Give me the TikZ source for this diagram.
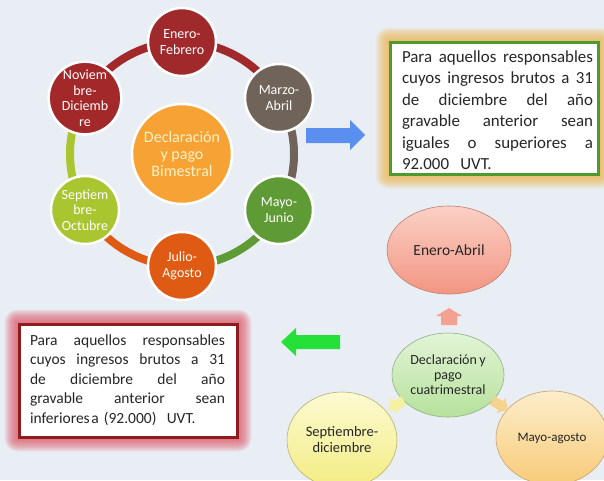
\documentclass[tikz,border=0pt]{standalone}
\usepackage{fontspec}
\setmainfont{Carlito}
\usetikzlibrary{calc,shapes.geometric,backgrounds}

\definecolor{bg}{HTML}{E9EEF5}
\definecolor{cEnero}{HTML}{A0292B}
\definecolor{cMarzo}{HTML}{6F635A}
\definecolor{cMayo}{HTML}{5E9B35}
\definecolor{cJulio}{HTML}{DF5A12}
\definecolor{cSept}{HTML}{A9C530}
\definecolor{cNov}{HTML}{A3282A}
\definecolor{cHub}{HTML}{F7A234}
\definecolor{hubText}{HTML}{FFF2C8}
\definecolor{arrBlue}{HTML}{5A8EEF}
\definecolor{arrGreen}{HTML}{26E03A}
\definecolor{boxGreen}{HTML}{4F9A2F}
\definecolor{boxRed}{HTML}{8C1C1E}
\definecolor{glowOrange}{HTML}{F0B850}
\definecolor{glowRed}{HTML}{E05060}
% period ellipses
\definecolor{eaTop}{HTML}{FAD0C6}
\definecolor{eaBot}{HTML}{F39582}
\definecolor{eaLine}{HTML}{C08070}
\definecolor{cuTop}{HTML}{E2F4D6}
\definecolor{cuBot}{HTML}{B6E19C}
\definecolor{cuLine}{HTML}{8FB084}
\definecolor{sdTop}{HTML}{FCFAD2}
\definecolor{sdBot}{HTML}{F3EC82}
\definecolor{sdLine}{HTML}{B8B070}
\definecolor{maTop}{HTML}{FDEDCB}
\definecolor{maBot}{HTML}{F7CB78}
\definecolor{maLine}{HTML}{C4A470}
\definecolor{ptrUp}{HTML}{F4A192}
\definecolor{ptrLeft}{HTML}{F6F0A2}
\definecolor{ptrRight}{HTML}{F6D38E}

% a justified line: the gaps between words are stretched to the full text width
\newcommand{\fullline}[1]{\leavevmode\hbox to \hsize{\def\ {\hfil}#1}}

\begin{document}
\begin{tikzpicture}[x=1pt,y=-1pt,
  month/.style={circle, draw=white, line width=2.5pt, minimum size=68pt,
    inner sep=0pt, align=center, text=white,
    font=\fontsize{14}{15.5}\selectfont},
  hubnode/.style={circle, draw=white, line width=2.5pt, minimum size=100pt,
    fill=cHub, inner sep=0pt, align=center, text=hubText,
    font=\fontsize{16}{17}\selectfont},
  ring/.style={line width=8pt},
  frame/.style={draw, line width=3pt, fill=white, inner sep=0pt},
  boxtext/.style={inner sep=0pt, align=left, text=black!85},
  period/.style={ellipse, draw, line width=0.6pt, inner sep=0pt,
    align=center, text=black!85}
]
\useasboundingbox (0,0) rectangle (604,480);
\begin{pgfonlayer}{background}
  \fill[bg] (0,0) rectangle (604,480);
\end{pgfonlayer}

% ---------- bimonthly cycle ----------
\coordinate (hub) at (182,154);
\draw[ring, cEnero] ($(hub)+(-90:112)$) arc[start angle=-90, end angle=-30, radius=112];
\draw[ring, cMarzo] ($(hub)+(-30:112)$) arc[start angle=-30, end angle=30, radius=112];
\draw[ring, cMayo]  ($(hub)+(30:112)$)  arc[start angle=30, end angle=90, radius=112];
\draw[ring, cJulio] ($(hub)+(90:112)$)  arc[start angle=90, end angle=150, radius=112];
\draw[ring, cSept]  ($(hub)+(150:112)$) arc[start angle=150, end angle=210, radius=112];
\draw[ring, cNov]   ($(hub)+(210:112)$) arc[start angle=210, end angle=270, radius=112];

\node[hubnode] (center) at (hub) {Declaración\\y pago\\Bimestral};
\node[month, fill=cEnero] (ene) at ($(hub)+(-90:112)$) {Enero-\\Febrero};
\node[month, fill=cMarzo] (mar) at ($(hub)+(-30:112)$) {Marzo-\\Abril};
\node[month, fill=cMayo]  (may) at ($(hub)+(30:112)$)  {Mayo-\\Junio};
\node[month, fill=cJulio] (jul) at ($(hub)+(90:112)$)  {Julio-\\Agosto};
\node[month, fill=cSept]  (sep) at ($(hub)+(150:112)$) {Septiem\\bre-\\Octubre};
\node[month, fill=cNov]   (nov) at ($(hub)+(210:112)$) {Noviem\\bre-\\Diciemb\\re};

% ---------- block arrows ----------
\fill[arrBlue] (306,128) -- (350,128) -- (350,120) -- (365,135)
  -- (350,150) -- (350,143) -- (306,143) -- cycle;
\fill[arrGreen] (340,335) -- (296,335) -- (296,328) -- (281,342)
  -- (296,356) -- (296,349) -- (340,349) -- cycle;

% ---------- information boxes ----------
\node[frame, draw=boxGreen, minimum width=208pt, minimum height=132pt] (upper) at (494,108) {};
\node[boxtext, text width=191pt, font=\fontsize{16.9}{21.5}\selectfont] (upperText) at (497.5,110)
  {\fullline{Para\ aquellos\ responsables}\\
   \fullline{cuyos\ ingresos\ brutos\ a\ 31}\\
   \fullline{de\ diciembre\ del\ año}\\
   \fullline{gravable\ anterior\ sean}\\
   \fullline{iguales\ o\ superiores\ a}\\
   92.000~~UVT.};
\node[frame, draw=boxRed, minimum width=218pt, minimum height=113pt] (lower) at (128,380.5) {};
\node[boxtext, text width=195pt, font=\fontsize{15.5}{19.5}\selectfont] (lowerText) at (127.5,380)
  {\fullline{Para\ aquellos\ responsables}\\
   \fullline{cuyos\ ingresos\ brutos\ a\ 31}\\
   \fullline{de\ diciembre\ del\ año}\\
   \fullline{gravable\ anterior\ sean}\\
   inferiores\hspace{1.5pt}a (92.000)~~UVT.};

\begin{pgfonlayer}{background}
  \foreach \i in {1,...,13}{
    \fill[glowOrange, opacity=0.1, rounded corners=\i]
      ($(upper.south west)+(-\i,\i)$) rectangle ($(upper.north east)+(\i,-\i)$);
    \fill[glowRed, opacity=0.09, rounded corners=\i]
      ($(lower.south west)+(-\i,\i)$) rectangle ($(lower.north east)+(\i,-\i)$);
  }
\end{pgfonlayer}

% ---------- four-monthly periods ----------
\node[period, minimum width=124pt, minimum height=88pt, font=\fontsize{15.5}{17}\selectfont,
  top color=eaTop, bottom color=eaBot, draw=eaLine] (ea) at (449,250) {Enero-Abril};
\node[period, minimum width=112pt, minimum height=84pt, font=\fontsize{14}{15}\selectfont,
  top color=cuTop, bottom color=cuBot, draw=cuLine] (cuat) at (448,375)
  {Declaración\,y\\pago\\cuatrimestral};
\node[period, minimum width=110pt, minimum height=96pt, font=\fontsize{14.5}{16}\selectfont,
  top color=sdTop, bottom color=sdBot, draw=sdLine] (sd) at (342,440)
  {Septiembre-\\diciembre};
\node[period, minimum width=112pt, minimum height=94pt, font=\fontsize{13}{15}\selectfont,
  top color=maTop, bottom color=maBot, draw=maLine] (ma) at (552,438) {Mayo-agosto};

% small pointers from the centre to each period
\begin{scope}[shift={(449,317)}, rotate=90]
  \fill[ptrUp] (-8,-8) -- (1,-8) -- (1,-13) -- (9,0) -- (1,13) -- (1,8) -- (-8,8) -- cycle;
\end{scope}
\begin{scope}[shift={(396,405)}, rotate=210]
  \fill[ptrLeft] (-9,-5) -- (1,-5) -- (1,-9) -- (9,0) -- (1,9) -- (1,5) -- (-9,5) -- cycle;
\end{scope}
\begin{scope}[shift={(500,405)}, rotate=-30]
  \fill[ptrRight] (-9,-5) -- (1,-5) -- (1,-9) -- (9,0) -- (1,9) -- (1,5) -- (-9,5) -- cycle;
\end{scope}
\end{tikzpicture}
\end{document}
